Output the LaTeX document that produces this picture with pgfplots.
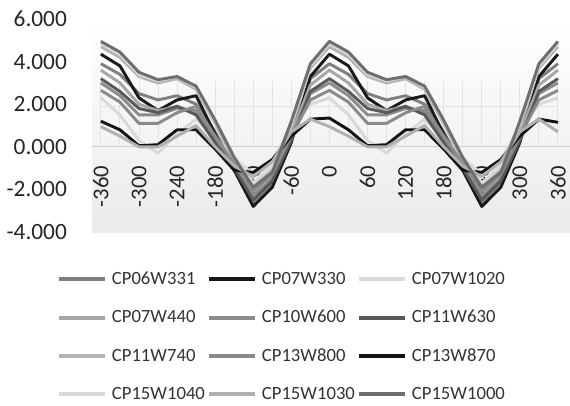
\documentclass[border=0pt]{standalone}
\usepackage{pgfplots}
\pgfplotsset{compat=1.18}
\usepackage{pgfplotstable}
\usepackage{fontspec}
\setmainfont{Carlito}
\definecolor{c1}{HTML}{7F7F7F}
\definecolor{c2}{HTML}{1A1A1A}
\definecolor{c3}{HTML}{D9D9D9}
\definecolor{c4}{HTML}{A6A6A6}
\definecolor{c5}{HTML}{8C8C8C}
\definecolor{c6}{HTML}{595959}
\definecolor{c7}{HTML}{B3B3B3}
\definecolor{c8}{HTML}{8A8A8A}
\definecolor{c9}{HTML}{141414}
\definecolor{c10}{HTML}{DADADA}
\definecolor{c11}{HTML}{B0B0B0}
\definecolor{c12}{HTML}{6E6E6E}
\pgfplotstableread{
x s1 s2 s3 s4 s5 s6 s7 s8 s9 s10 s11 s12
-360 3.9 4.35 2.3 3.6 3.0 3.2 4.7 2.65 1.2 4.85 0.95 4.95
-330 3.4 3.8 1.5 3.0 2.4 2.6 4.2 2.1 0.8 4.35 0.5 4.45
-300 2.5 2.3 0.3 2.0 1.5 1.8 3.3 1.1 0.05 3.4 0.0 3.5
-270 2.2 1.7 -0.3 1.7 1.5 1.6 3.0 1.1 0.1 3.1 0.0 3.15
-240 2.4 2.2 0.6 1.9 1.8 1.9 3.2 1.6 0.8 3.3 0.5 3.3
-210 2.0 2.4 1.3 1.6 1.7 1.5 2.7 1.9 0.8 2.8 1.0 2.85
-180 0.7 0.6 0.4 0.5 0.3 0.2 1.1 0.5 -0.1 1.2 0.0 1.25
-150 -0.9 -1.1 -0.5 -0.8 -0.9 -1.0 -0.6 -0.8 -1.1 -0.45 -0.9 -0.5
-120 -2.6 -2.8 -1.3 -2.0 -2.3 -2.5 -1.8 -2.1 -1.2 -1.7 -1.4 -1.9
-90 -1.7 -1.9 -0.6 -1.3 -1.5 -1.6 -1.1 -1.3 -0.6 -0.9 -0.7 -1.2
-60 0.6 0.2 0.9 0.6 0.4 0.3 1.0 0.5 0.5 1.1 0.7 1.2
-30 3.2 3.3 2.0 2.9 2.5 2.6 3.7 2.2 1.3 3.8 1.3 3.9
0 3.9 4.35 2.3 3.6 3.0 3.2 4.7 2.65 1.35 4.85 0.95 4.95
30 3.4 3.8 1.5 3.0 2.4 2.6 4.2 2.1 0.8 4.35 0.5 4.45
60 2.5 2.3 0.3 2.0 1.5 1.8 3.3 1.1 0.05 3.4 0.0 3.5
90 2.2 1.7 -0.3 1.7 1.5 1.6 3.0 1.1 0.1 3.1 0.0 3.15
120 2.4 2.2 0.6 1.9 1.8 1.9 3.2 1.6 0.8 3.3 0.5 3.3
150 2.0 2.4 1.3 1.6 1.7 1.5 2.7 1.9 0.8 2.8 1.0 2.85
180 0.7 0.6 0.4 0.5 0.3 0.2 1.1 0.5 -0.1 1.2 0.0 1.25
210 -0.9 -1.1 -0.5 -0.8 -0.9 -1.0 -0.6 -0.8 -1.1 -0.45 -0.9 -0.5
240 -2.6 -2.8 -1.3 -2.0 -2.3 -2.5 -1.8 -2.1 -1.2 -1.7 -1.4 -1.9
270 -1.7 -1.9 -0.6 -1.3 -1.5 -1.6 -1.1 -1.3 -0.6 -0.9 -0.7 -1.2
300 0.6 0.2 0.9 0.6 0.4 0.3 1.0 0.5 0.5 1.1 0.7 1.2
330 3.2 3.3 2.0 2.9 2.5 2.6 3.7 2.2 1.3 3.8 1.3 3.9
360 3.9 4.35 2.3 3.6 3.0 3.2 4.7 2.65 1.15 4.85 0.7 4.95
}\datatable
\begin{document}
\begin{tikzpicture}
\begin{axis}[
  name=ax,
  at={(0,0)}, anchor=south west,
  scale only axis,
  width=358.5pt, height=159.75pt,
  xmin=-374, xmax=379,
  ymin=-4, ymax=6,
  axis x line=middle,
  axis y line=left,
  hide obscured x ticks=false,
  x axis line style={-, draw=gray!40, line width=0.8pt},
  y axis line style={draw=none},
  tick style={draw=none},
  axis background/.style={top color=white, middle color=white, bottom color=gray!16},
  xtick={-360,-300,-240,-180,-120,-60,0,60,120,180,240,300,360},
  xticklabels={-360,-300,-240,-180,-120,-60,0,60,120,180,240,300,360},
  ytick={-4,-2,0,2,4,6},
  yticklabels={-4.000,-2.000,0.000,2.000,4.000,6.000},
  xticklabel shift=0pt,
  yticklabel shift=0pt,
  xticklabel style={yshift=-12pt, rotate=90, anchor=east, inner sep=0pt, font=\fontsize{17}{17}\selectfont, text=black!85},
  yticklabel style={anchor=east, inner sep=0pt, xshift=-16.5pt, font=\fontsize{17.5}{17.5}\selectfont, text=black!85},
  clip=false,
  legend columns=3,
  legend cell align=left,
  legend style={at={(0,0)}, anchor=north west, xshift=-26.25pt, yshift=-29pt,
    draw=none, fill=none, inner sep=0pt, row sep=16.3pt,
    font=\fontsize{14}{16}\selectfont, text=black!80,
    nodes={inner sep=0pt, text height=10pt, text depth=2.5pt},
    /tikz/every odd column/.append style={column sep=4pt}},
  legend image code/.code={\draw[#1, line width=3pt] (0pt,0pt) -- (34pt,0pt);},
  every axis plot/.append style={line width=2.2pt, line join=round},
]
\pgfplotsinvokeforeach{-360,-330,...,360}{\draw[gray!22, line width=0.7pt] (axis cs:#1,0) -- (axis cs:#1,3.1);}
\draw[gray!22, line width=0.7pt] (axis cs:-360,1.9) -- (axis cs:360,1.9);
\addplot[c1] table[x=x,y=s1]{\datatable};
\addlegendentry{\makebox[71.5pt][l]{CP06W331}}
\addplot[c2] table[x=x,y=s2]{\datatable};
\addlegendentry{\makebox[71.5pt][l]{CP07W330}}
\addplot[c3] table[x=x,y=s3]{\datatable};
\addlegendentry{\makebox[71.5pt][l]{CP07W1020}}
\addplot[c4] table[x=x,y=s4]{\datatable};
\addlegendentry{\makebox[71.5pt][l]{CP07W440}}
\addplot[c5] table[x=x,y=s5]{\datatable};
\addlegendentry{\makebox[71.5pt][l]{CP10W600}}
\addplot[c6] table[x=x,y=s6]{\datatable};
\addlegendentry{\makebox[71.5pt][l]{CP11W630}}
\addplot[c7] table[x=x,y=s7]{\datatable};
\addlegendentry{\makebox[71.5pt][l]{CP11W740}}
\addplot[c8] table[x=x,y=s8]{\datatable};
\addlegendentry{\makebox[71.5pt][l]{CP13W800}}
\addplot[c9] table[x=x,y=s9]{\datatable};
\addlegendentry{\makebox[71.5pt][l]{CP13W870}}
\addplot[c10] table[x=x,y=s10]{\datatable};
\addlegendentry{\makebox[71.5pt][l]{CP15W1040}}
\addplot[c11] table[x=x,y=s11]{\datatable};
\addlegendentry{\makebox[71.5pt][l]{CP15W1030}}
\addplot[c12] table[x=x,y=s12]{\datatable};
\addlegendentry{\makebox[71.5pt][l]{CP15W1000}}
\end{axis}
\pgfresetboundingbox
\path (-69pt,-129.75pt) rectangle (358.5pt,174pt);
\end{tikzpicture}
\end{document}
